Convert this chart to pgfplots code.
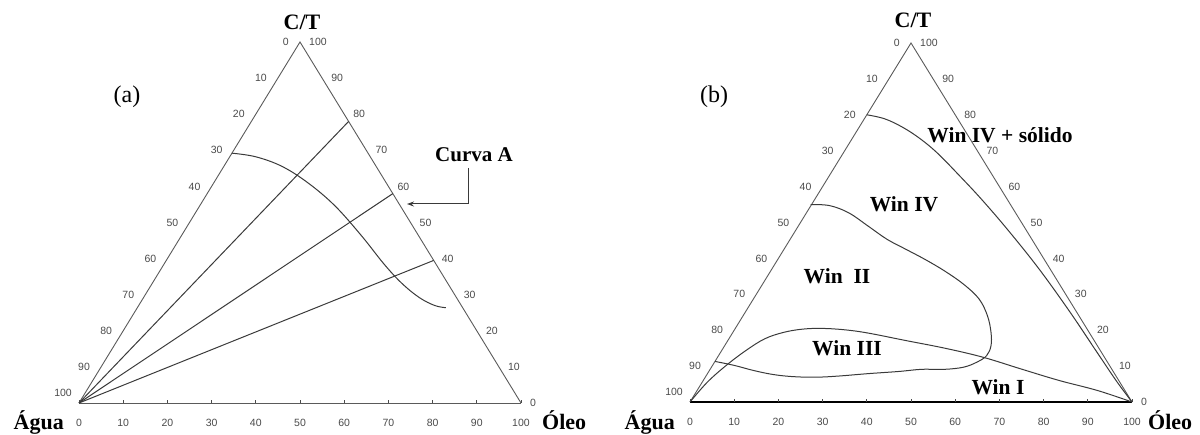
\documentclass[border=0pt]{standalone}
\usepackage{pgfplots}
\pgfplotsset{compat=1.18}
\usepackage{fontspec}
\setmainfont{Liberation Serif}
\newfontfamily\tickfont{Liberation Sans}
\usetikzlibrary{calc,arrows.meta}
\definecolor{edgegray}{HTML}{5A5A5A}
\definecolor{tickgray}{HTML}{4A4A4A}
\definecolor{curvegray}{HTML}{3A3A3A}
\pgfplotsset{
  tern/.style={scale only axis, width=442pt, xmin=0, xmax=100, ymin=0, ymax=100,
    axis lines=none, clip=false, anchor=south west},
  edge/.style={edgegray, line width=0.9pt, no marks},
  curve/.style={curvegray, line width=1pt, no marks, smooth, tension=0.6},
}
\tikzset{
  tlab/.style={font=\tickfont\fontsize{10.5}{11}\selectfont, text=tickgray, inner sep=0pt},
  blab/.style={font=\bfseries\fontsize{22}{24}\selectfont, inner sep=0pt},
  wlab/.style={font=\bfseries\fontsize{21.5}{24}\selectfont, inner sep=0pt},
}
\newcommand{\ternticks}{%
  \pgfplotsinvokeforeach{0,10,...,100}{%
    \draw[tickgray, line width=0.8pt] (axis cs:##1,0) -- ++(0,3pt);
    \node[tlab, yshift=-20pt] at (axis cs:##1,0) {##1};
  }%
  \pgfplotsinvokeforeach{0,10,...,90}{%
    \node[tlab, anchor=east, xshift=-11pt] at ($(axis cs:50,100)!##1/100!(axis cs:0,0)$) {##1};
  }%
  \node[tlab, anchor=east, xshift=-7pt, yshift=10pt] at (axis cs:0,0) {100};
  \pgfplotsinvokeforeach{0,10,...,100}{%
    \node[tlab, anchor=west, xshift=9pt] at ($(axis cs:100,0)!##1/100!(axis cs:50,100)$) {##1};
  }%
}
\begin{document}
\begin{tikzpicture}
\path[use as bounding box] (0,0) rectangle (1200pt,434pt);
% ---------------- (a) ----------------
\begin{axis}[tern, height=361pt, at={(79pt,31pt)}]
  \addplot[edge] coordinates {(0,0) (50,100) (100,0)};
  \addplot[edge] coordinates {(0,0) (100,0)};
  \ternticks
  % rays from the water vertex
  \addplot[curve, smooth=false] coordinates {(0,0) (61,78)};
  \addplot[curve, smooth=false] coordinates {(0,0) (71,58)};
  \addplot[curve, smooth=false] coordinates {(0,0) (80.25,39.5)};
  % Curva A
  \addplot[curve] coordinates {
    (34.6,69.2) (40,68.2) (46,65.5) (52,60.8) (58,54.5) (64,46.2)
    (69,38.5) (73,33.2) (77,29.2) (80.5,27.0) (83,26.4)};
\end{axis}
\node[blab] at (302pt,412pt) {C/T};
\node[blab, anchor=base east] at (64pt,5pt) {Água};
\node[blab, anchor=base west] at (542pt,5pt) {Óleo};
\node[font=\fontsize{24}{26}\selectfont, inner sep=0pt] at (127pt,337pt) {(a)};
\node[font=\bfseries\fontsize{21}{24}\selectfont, inner sep=0pt] at (474pt,279pt) {Curva A};
\draw[curvegray, line width=1pt, -{Stealth[length=7pt,width=5pt]}] (468pt,266pt) -- (468pt,230pt) -- (407pt,230pt);
% ---------------- (b) ----------------
\begin{axis}[tern, height=359pt, at={(690pt,32pt)}]
  \addplot[edge] coordinates {(0,0) (50,100) (100,0)};
  \addplot[black, line width=2pt, no marks] coordinates {(0,0) (100,0)};
  \ternticks
  % Win IV + solido boundary
  \addplot[curve] coordinates {
    (40,80) (44,78.9) (48,76.6) (52,73.4) (56,69.3) (61,63.0) (66,56.4)
    (72,47.8) (79,37.0) (86,25.0) (92,14.0) (96.5,5.8) (100,0)};
  % Win IV / Win II / Win III boundary
  \addplot[curve] coordinates {
    (27.3,55.0) (31.6,54.7) (35.9,52.7) (40.3,49.0) (44.6,45.3) (48.9,42.5)
    (53.2,39.7) (57.6,36.5) (61.9,32.8) (65.4,28.7) (67.3,24.0) (68.1,19.4)
    (68.1,15.7) (67.1,12.9) (64.9,11.1) (61.9,9.7) (57.6,9.1) (52.4,9.1)
    (47.2,8.5) (40.3,7.9) (33.3,7.2) (28.1,6.9) (22.9,7.1) (18.6,7.7)
    (14.3,8.8) (10.0,10.2) (5.65,11.3)};
  % Win III / Win I boundary
  \addplot[curve] coordinates {
    (0,0) (3.9,5.5) (8.2,10.2) (12.6,14.3) (16.9,17.6) (21.2,19.4) (25.5,20.3)
    (29.9,20.5) (35.1,20.1) (40.3,19.2) (48.9,17.1) (57.6,15.0) (66.2,12.5)
    (74.9,9.2) (83.5,6.0) (92.2,3.2) (100,0)};
\end{axis}
\node[blab] at (913pt,414pt) {C/T};
\node[blab, anchor=base east] at (675pt,5pt) {Água};
\node[blab, anchor=base west] at (1148pt,5pt) {Óleo};
\node[font=\fontsize{24}{26}\selectfont, inner sep=0pt] at (714pt,337pt) {(b)};
\node[wlab] at (1000pt,299pt) {Win IV + sólido};
\node[wlab] at (904pt,230pt) {Win IV};
\node[wlab] at (837pt,158pt) {Win\ \ II};
\node[wlab] at (847pt,86pt) {Win III};
\node[wlab] at (998pt,47pt) {Win I};
\end{tikzpicture}
\end{document}
